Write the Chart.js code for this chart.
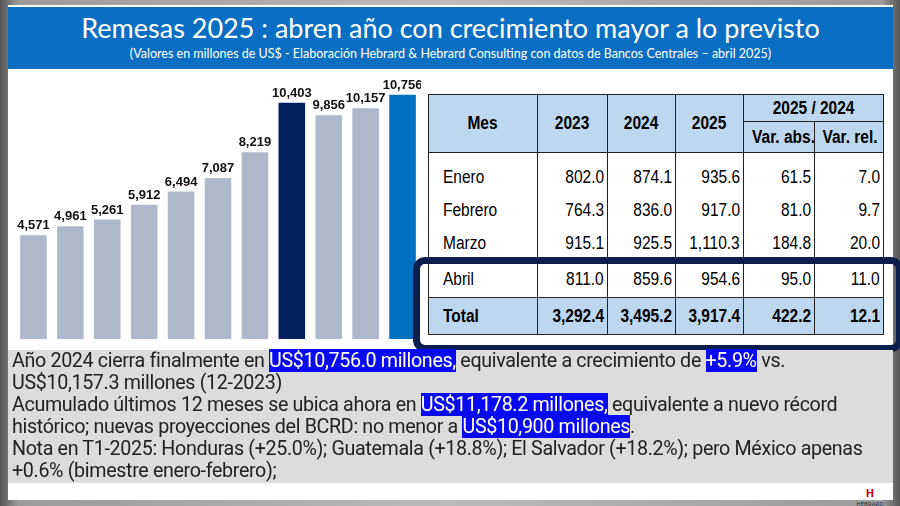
<!DOCTYPE html>
<html><head><meta charset="utf-8">
<script src="https://cdn.jsdelivr.net/npm/chart.js@4/dist/chart.umd.min.js"></script>
<style>
body{margin:0;width:900px;height:506px;overflow:hidden;background:#fff;font-family:"Noto Sans",sans-serif}
#frame{position:absolute;left:0;top:0;width:900px;height:506px;background:linear-gradient(90deg,#555,#9a9a9a 2%,#bbb 50%,#9a9a9a 98%,#555)}
#slide{position:absolute;left:8px;top:5px;width:885px;height:495px;background:#fff}
#hdr{position:absolute;left:0;top:2px;width:885px;height:62px;background:#0a6fc2;color:#fff;text-align:center}
#hdr .t{font-family:Lato,"Noto Sans";font-size:27px;line-height:30px;padding-top:6px}
#hdr .s{font-family:Lato,"Noto Sans";font-size:12.5px;margin-top:3px}
#cw{position:absolute;left:3px;top:66px;width:410px;height:268px}
#tbl{position:absolute;left:420px;top:89px;width:455px;table-layout:fixed;border-collapse:collapse;font-family:"Liberation Sans",Arial;font-size:18px}
#tbl td{border:1.5px solid #222;padding:0 3px;text-align:right;white-space:nowrap;overflow:visible}
#tbl td span{display:inline-block;transform:scaleX(0.86);transform-origin:right center}
#tbl .h td{background:#bdd7ee;font-weight:bold;text-align:center}
#tbl .h td span{transform-origin:center}
#tbl td.m{text-align:left;padding-left:14px}
#tbl td.m span{transform-origin:left center}
#tbl .tot td{background:#bdd7ee;font-weight:bold}
#box{position:absolute;left:405px;top:252px;width:476px;height:81px;border:7px solid #0b1e4e;border-radius:12px}
#txt{position:absolute;left:0;top:345px;width:885px;height:133px;background:#dcdcdc;font-family:Roboto;font-size:19.7px;line-height:22px;color:#222;padding-left:4px;box-sizing:border-box;letter-spacing:-0.35px;white-space:nowrap}
.hl{background:#0a0af0;color:#fff}
#logo{position:absolute;left:848px;top:480px;width:28px;height:14px;font-size:6px;color:#234;text-align:center}
</style></head><body>
<div id="frame"></div>
<div id="slide">
<div id="hdr"><div class="t">Remesas 2025 : abren año con crecimiento mayor a lo previsto</div>
<div class="s">(Valores en millones de US$ - Elaboración Hebrard &amp; Hebrard Consulting con datos de Bancos Centrales – abril 2025)</div></div>
<div id="cw"><canvas id="c"></canvas></div>
<table id="tbl"><colgroup><col style="width:109px"><col style="width:70px"><col style="width:68px"><col style="width:68px"><col style="width:71px"><col style="width:69px"></colgroup><tbody id="tb"></tbody></table>
<div id="box"></div>
<div id="txt">Año 2024 cierra finalmente en <span class="hl">US$10,756.0 millones,</span> equivalente a crecimiento de <span class="hl">+5.9%</span> vs.<br>US$10,157.3 millones (12-2023)<br>Acumulado últimos 12 meses se ubica ahora en <span class="hl">US$11,178.2 millones,</span> equivalente a nuevo récord<br>histórico; nuevas proyecciones del BCRD: no menor a <span class="hl">US$10,900 millones</span>.<br>Nota en T1-2025: Honduras (+25.0%); Guatemala (+18.8%); El Salvador (+18.2%); pero México apenas<br>+0.6% (bimestre enero-febrero);</div>
<div id="logo"><b style="font-size:11px;color:#c00">H</b><br>HEBRARD</div>
</div>
<script>
const years = ["2014","2015","2016","2017","2018","2019","2020","2021","2022","2023","2024"];
const remesas = [4571, 4961, 5261, 5912, 6494, 7087, 8219, 10403, 9856, 10157, 10756];
const barColors = ["#adb9ca","#adb9ca","#adb9ca","#adb9ca","#adb9ca","#adb9ca","#adb9ca","#002060","#adb9ca","#adb9ca","#0070c0"];

const tblHead = ["Mes","2023","2024","2025"];
const months = ["Enero","Febrero","Marzo","Abril","Total"];
const v2023 = ["802.0","764.3","915.1","811.0","3,292.4"];
const v2024 = ["874.1","836.0","925.5","859.6","3,495.2"];
const v2025 = ["935.6","917.0","1,110.3","954.6","3,917.4"];
const varAbs = ["61.5","81.0","184.8","95.0","422.2"];
const varRel = ["7.0","9.7","20.0","11.0","12.1"];

// table
const sp = t => '<span>' + t + '</span>';
let html = '<tr class="h"><td rowspan="2">' + sp(tblHead[0]) + '</td>';
for (let i = 1; i < 4; i++) html += '<td rowspan="2">' + sp(tblHead[i]) + '</td>';
html += '<td colspan="2" style="height:26px">' + sp('2025 / 2024') + '</td></tr><tr class="h"><td style="height:30px">' + sp('Var. abs.') + '</td><td>' + sp('Var. rel.') + '</td></tr>';
months.forEach((m, i) => {
  const cls = m === "Total" ? ' class="tot"' : '';
  const h = i < 3 ? 33 : 36;
  const pt = i === 0 ? 'padding-top:8px;' : '';
  const bs = i < 2 ? 'border-bottom:none;' : '';
  const bt = (i > 0 && i < 3) ? 'border-top:none;' : '';
  const st = ' style="height:' + h + 'px;' + pt + bs + bt + '"';
  html += '<tr' + cls + '><td class="m"' + st + '>' + sp(m) + '</td>';
  [v2023, v2024, v2025, varAbs, varRel].forEach(a => { html += '<td' + st + '>' + sp(a[i]) + '</td>'; });
  html += '</tr>';
});
document.getElementById('tb').innerHTML = html;

const labelPlugin = {
  id: 'labels',
  afterDatasetsDraw(chart) {
    const ctx = chart.ctx;
    const meta = chart.getDatasetMeta(0);
    ctx.save();
    ctx.font = 'bold 13px "Liberation Sans", Arial';
    ctx.fillStyle = '#111';
    ctx.textAlign = 'center';
    meta.data.forEach((bar, i) => {
      ctx.fillText(remesas[i].toLocaleString('en-US'), bar.x, bar.y - 6);
    });
    ctx.restore();
  }
};

new Chart(document.getElementById('c'), {
  type: 'bar',
  data: { labels: years, datasets: [{ data: remesas, backgroundColor: barColors, categoryPercentage: 1, barPercentage: 0.72 }] },
  options: {
    responsive: true, maintainAspectRatio: false, animation: false,
    layout: { padding: { left: 4, right: 0, top: 0, bottom: 0 } },
    plugins: { legend: { display: false }, tooltip: { enabled: false } },
    scales: {
      x: { display: false },
      y: { display: false, min: 0, max: 11800 }
    }
  },
  plugins: [labelPlugin]
});
</script>
</body></html>
